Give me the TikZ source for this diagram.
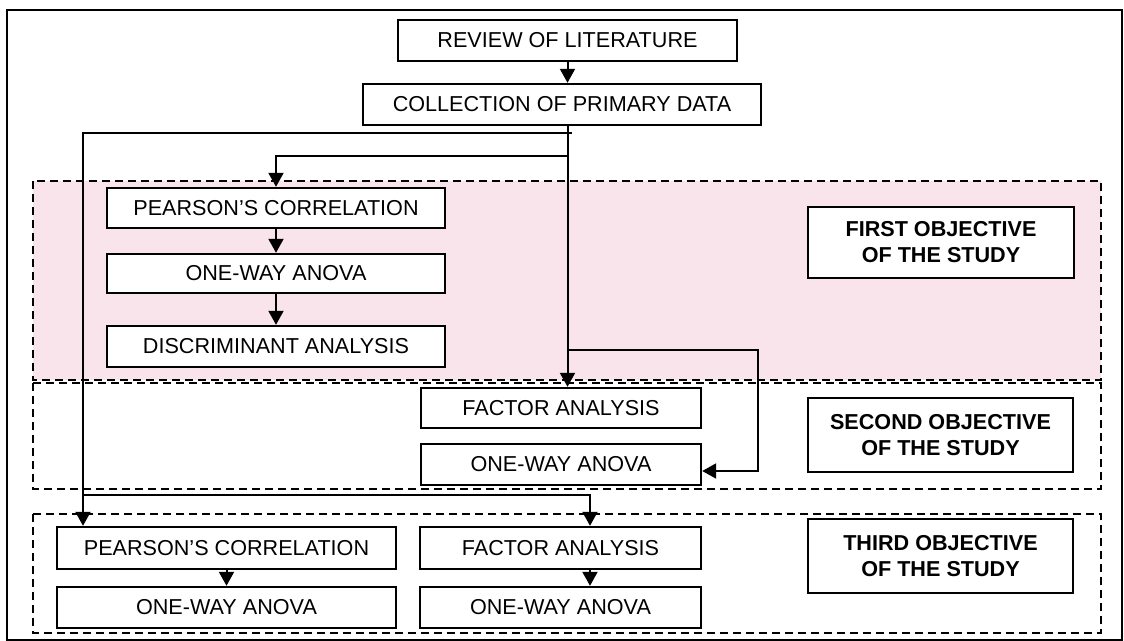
\documentclass[tikz,border=0pt]{standalone}
\usepackage{fontspec}
\setmainfont{Liberation Sans}
\usetikzlibrary{arrows.meta}
\definecolor{pinkfill}{RGB}{250,228,235}
\tikzset{
  box/.style={draw=black, line width=1.2pt, fill=white, inner sep=0pt, align=center,
    font=\fontsize{10.8}{13}\selectfont},
  objbox/.style={box, font=\fontsize{10.8}{13}\selectfont\bfseries},
  arr/.style={line width=1pt, -{Triangle[length=7pt,width=7.5pt]}},
  group/.style={draw=black, line width=1pt, dash pattern=on 4pt off 2.5pt}
}
\begin{document}
\begin{tikzpicture}[x=0.5pt,y=-0.5pt]
\useasboundingbox (0,0) rectangle (1124,641);
% outer frame
\draw[line width=1pt] (7,10) rectangle (1122,640);
% groups
\fill[pinkfill] (33,181) rectangle (1101,380);
\draw[group] (33,181) rectangle (1101,380);
\draw[group] (33,383) rectangle (1101,489);
\draw[group] (33,514) rectangle (1101,633);
% nodes
\node[box, minimum width=169.5pt, minimum height=20.5pt] (rev) at (567.5,40.5) {REVIEW OF LITERATURE};
\node[box, minimum width=199pt, minimum height=20.5pt] (col) at (562,104.5) {COLLECTION OF PRIMARY DATA};
\node[box, minimum width=169pt, minimum height=20pt] (p1) at (276,208) {PEARSON’S CORRELATION};
\node[box, minimum width=169pt, minimum height=19.5pt] (a1) at (276,273.5) {ONE-WAY ANOVA};
\node[box, minimum width=169pt, minimum height=20.5pt] (d1) at (276,346.5) {DISCRIMINANT ANALYSIS};
\node[objbox, minimum width=133pt, minimum height=35.5pt] (fo) at (941,242.5) {FIRST OBJECTIVE\\OF THE STUDY};
\node[box, minimum width=140pt, minimum height=20pt] (f2) at (561,408) {FACTOR ANALYSIS};
\node[box, minimum width=140pt, minimum height=20.5pt] (a2) at (561,464.5) {ONE-WAY ANOVA};
\node[objbox, minimum width=132.5pt, minimum height=37pt] (so) at (940.5,435) {SECOND OBJECTIVE\\OF THE STUDY};
\node[box, minimum width=169.5pt, minimum height=21pt] (p3) at (226.5,548) {PEARSON’S CORRELATION};
\node[box, minimum width=169.5pt, minimum height=20.5pt] (a3l) at (226.5,607.5) {ONE-WAY ANOVA};
\node[box, minimum width=140.5pt, minimum height=21pt] (f3) at (560.5,548) {FACTOR ANALYSIS};
\node[box, minimum width=140.5pt, minimum height=20.5pt] (a3r) at (560.5,607.5) {ONE-WAY ANOVA};
\node[objbox, minimum width=132.5pt, minimum height=37pt] (to) at (940.5,556) {THIRD OBJECTIVE\\OF THE STUDY};
% coordinates
\coordinate (j1) at (572,133);
\coordinate (k1) at (83,133);
\coordinate (j2) at (567.5,156);
\coordinate (j3) at (83,495);
\coordinate (t3) at (590,495);
\coordinate (j4) at (567.5,350);
\coordinate (k4) at (758,350);
\coordinate (k5) at (758,471);
% connectors
\draw[arr] (rev.south) -- (rev.south |- col.north);
\draw[arr] (rev.south |- col.south) -- (rev.south |- f2.north);
\draw[arr] (j1) -- (k1) -- (k1 |- p3.north);
\draw[arr] (j2) -| (p1.north);
\draw[arr] (p1) -- (a1);
\draw[arr] (a1) -- (d1);
\draw[arr] (j4) -- (k4) -- (k5) -- (k5 -| a2.east);
\draw[arr] (j3) -- (t3) -- (t3 |- f3.north);
\draw[arr] (p3) -- (a3l);
\draw[arr] (f3.south -| t3) -- (a3r.north -| t3);
\end{tikzpicture}
\end{document}
